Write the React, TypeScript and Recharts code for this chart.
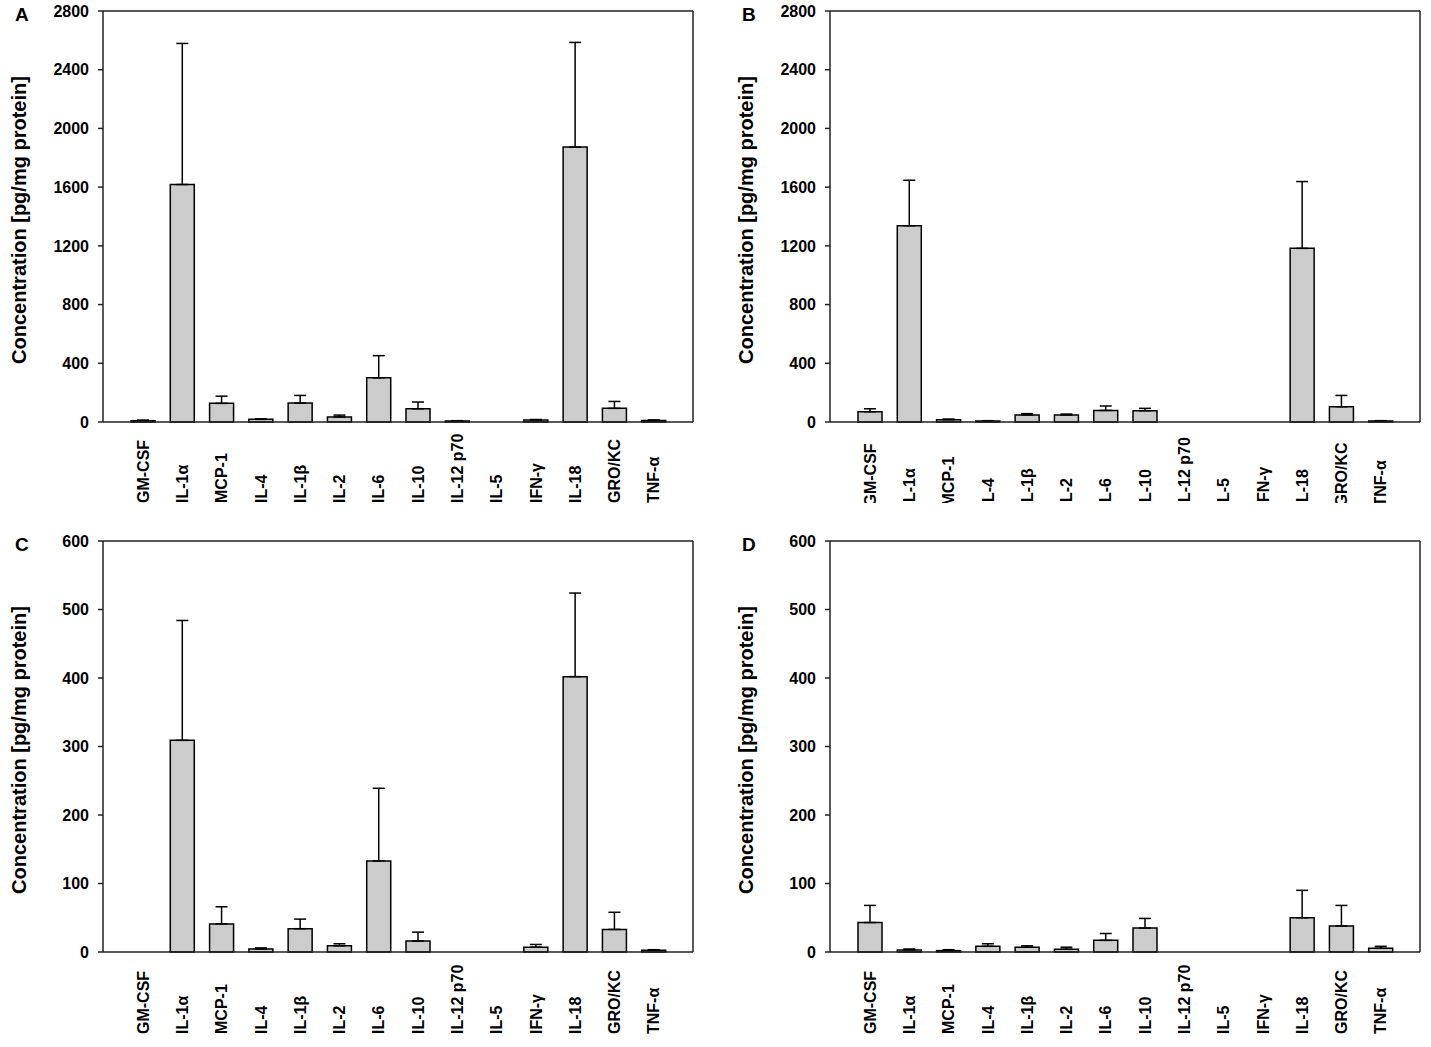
import { BarChart, Bar, XAxis, YAxis, ErrorBar, CartesianGrid } from "recharts";

const categories = ["GM-CSF", "IL-1α", "MCP-1", "IL-4", "IL-1β", "IL-2", "IL-6", "IL-10", "IL-12 p70", "IL-5", "IFN-γ", "IL-18", "GRO/KC", "TNF-α"];

// upper error = top of the whisker minus the bar value
const meanA = [9, 1618, 127, 18, 129, 34, 301, 90, 7, 0, 14, 1873, 93, 11];
const errA = [4, 961, 49, 3, 52, 13, 151, 46, 2, 0, 3, 713, 47, 3];
const meanB = [70, 1337, 16, 7, 48, 48, 79, 77, 0, 0, 0, 1183, 104, 7];
const errB = [20, 310, 4, 2, 9, 6, 30, 16, 2, 2, 0, 455, 77, 2];
const meanC = [0, 309, 41, 4.4, 34, 9, 133, 16, 0, 0, 7, 402, 33, 2.4];
const errC = [1, 175, 25, 1.6, 14, 3, 106, 13, 1, 0.5, 4, 122, 25, 1];
const meanD = [43, 3, 2, 8.3, 7, 4, 17, 35, 0, 0, 0, 50, 38, 5.4];
const errD = [25, 1.4, 1.4, 3.7, 2, 3, 10, 14, 0.5, 0.5, 0, 40, 30, 2.9];

const ticksHigh = [0, 400, 800, 1200, 1600, 2000, 2400, 2800];
const ticksLow = [0, 100, 200, 300, 400, 500, 600];

const FONT = "'Liberation Sans', Arial, sans-serif";
const AXIS = "#222";

const rows = (mean: number[], err: number[]) =>
  categories.map((name, i) => ({ name, value: mean[i], err: [0, err[i]] }));

const XTick = ({ x, y, payload, dy }: any) => (
  <g transform={`translate(${x + 6},${y + dy})`}>
    <text transform="rotate(-90)" textAnchor="start" fontFamily={FONT} fontWeight="bold" fontSize={16} fill="#000">
      {payload.value}
    </text>
  </g>
);

function Panel({ mean, err, ticks, max, left, top, letter, clip, labelDy }: any) {
  return (
    <div style={{ position: "absolute", left, top, width: 715, height: clip ?? 520, overflow: "hidden" }}>
      <BarChart width={715} height={520} data={rows(mean, err)} margin={{ top: 11, right: 22, bottom: 0, left: 0 }}>
        {/* top and right edges of the frame */}
        <CartesianGrid
          stroke={AXIS}
          strokeWidth={1.5}
          horizontalCoordinatesGenerator={({ offset }: any) => [offset.top]}
          verticalCoordinatesGenerator={({ offset }: any) => [offset.left + offset.width]}
        />
        <XAxis
          dataKey="name"
          height={98}
          interval={0}
          padding={{ left: 20, right: 20 }}
          tickLine={false}
          tickSize={0}
          tickMargin={0}
          axisLine={{ stroke: AXIS, strokeWidth: 1.5 }}
          tick={<XTick dy={labelDy} />}
        />
        <YAxis
          width={103}
          domain={[0, max]}
          ticks={ticks}
          interval={0}
          tickSize={5}
          tickMargin={9}
          axisLine={{ stroke: AXIS, strokeWidth: 1.5 }}
          tickLine={{ stroke: AXIS, strokeWidth: 1.5 }}
          tick={{ fontFamily: FONT, fontWeight: "bold", fontSize: 16, fill: "#000" }}
        />
        <Bar dataKey="value" barSize={24} fill="#cccccc" stroke="#000" strokeWidth={1.5} isAnimationActive={false}>
          <ErrorBar dataKey="err" direction="y" width={6} stroke="#000" strokeWidth={1.5} />
        </Bar>
      </BarChart>
      <div style={{ position: "absolute", left: 15, top: 4, fontFamily: FONT, fontWeight: "bold", fontSize: 19 }}>{letter}</div>
      <div
        style={{
          position: "absolute",
          left: 19,
          top: 220,
          transform: "translate(-50%, -50%) rotate(-90deg)",
          whiteSpace: "nowrap",
          fontFamily: FONT,
          fontWeight: "bold",
          fontSize: 20,
        }}
      >
        Concentration [pg/mg protein]
      </div>
    </div>
  );
}

export default function App() {
  return (
    <div style={{ position: "absolute", left: 0, top: 0, width: 1431, height: 1047, background: "#fff" }}>
      <Panel mean={meanA} err={errA} ticks={ticksHigh} max={2800} left={0} top={0} letter="A" labelDy={81} />
      <Panel mean={meanB} err={errB} ticks={ticksHigh} max={2800} left={727} top={0} letter="B" labelDy={84.5} clip={503} />
      <Panel mean={meanC} err={errC} ticks={ticksLow} max={600} left={0} top={530} letter="C" labelDy={82} />
      <Panel mean={meanD} err={errD} ticks={ticksLow} max={600} left={727} top={530} letter="D" labelDy={82} />
    </div>
  );
}
